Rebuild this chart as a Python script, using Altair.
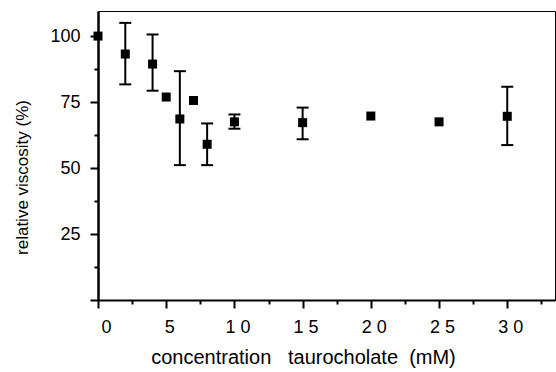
import altair as alt
import pandas as pd

# data
conc = [0, 2, 4, 5, 6, 7, 8, 10, 15, 20, 25, 30]
visc = [100, 93.2, 89.4, 76.9, 68.6, 75.6, 59.0, 67.5, 67.2, 69.7, 67.5, 69.6]

err_conc = [2, 4, 6, 8, 10, 15, 30]
err_lo = [81.7, 79.3, 51.1, 51.1, 64.9, 60.9, 58.7]
err_hi = [105.0, 100.6, 86.7, 66.9, 70.3, 72.9, 80.8]

x_major = [0, 5, 10, 15, 20, 25, 30]
x_minor = [2.5, 7.5, 12.5, 17.5, 22.5, 27.5, 32.5]
y_major = [0, 25, 50, 75, 100]
y_minor = [12.5, 37.5, 62.5, 87.5]

pts = pd.DataFrame({"c": conc, "v": visc})
err = pd.DataFrame({"c": err_conc, "lo": err_lo, "hi": err_hi})

FONT = "Liberation Sans"
NB = "\u00a0"
xscale = alt.Scale(domain=[0, 33.5], nice=False, zero=False)
yscale = alt.Scale(domain=[0, 109.5], nice=False, zero=False)

x_axis = alt.Axis(
    orient="bottom", values=x_major, tickSize=8, tickWidth=2, tickColor="black",
    domainColor="black", domainWidth=2, grid=False,
    labelFont=FONT, labelFontSize=18, labelColor="black", labelPadding=10,
    labelOffset=3, labelExpr="join(split(datum.label, ''), ' ')",
    title=f"concentration{NB}{NB}{NB}taurocholate{NB}{NB}(mM)",
    titleFont=FONT, titleFontSize=20,
    titleFontWeight="normal", titleColor="black",
    titleX=205, titleY=57, titleAnchor="middle", titleAlign="center",
    titleBaseline="middle",
)
y_axis = alt.Axis(
    orient="left", values=y_major, tickSize=8, tickWidth=2, tickColor="black",
    domainColor="black", domainWidth=2.5, grid=False,
    labelFont=FONT, labelFontSize=18, labelColor="black", labelPadding=10,
    labelExpr="datum.value == 0 ? '' : datum.label",
    title="relative viscosity (%)", titleFont=FONT, titleFontSize=17,
    titleFontWeight="normal", titleColor="black",
    titleX=-76, titleY=166, titleAngle=270, titleAlign="center",
    titleBaseline="middle",
)

x_axis_minor = alt.Axis(
    orient="bottom", values=x_minor, tickSize=4, tickWidth=2, tickColor="black",
    domain=False, labels=False, title=None, grid=False,
)
y_axis_minor = alt.Axis(
    orient="left", values=y_minor, tickSize=4, tickWidth=2, tickColor="black",
    domain=False, labels=False, title=None, grid=False,
)

points = alt.Chart(pts).mark_point(
    shape="square", filled=True, color="black", size=81, opacity=1
).encode(
    x=alt.X("c:Q", scale=xscale, axis=x_axis),
    y=alt.Y("v:Q", scale=yscale, axis=y_axis),
)

minor = alt.Chart(pts).mark_point(opacity=0, size=1).encode(
    x=alt.X("c:Q", scale=xscale, axis=x_axis_minor),
    y=alt.Y("v:Q", scale=yscale, axis=y_axis_minor),
)

bars = alt.Chart(err).mark_rule(color="black", strokeWidth=2).encode(
    x=alt.X("c:Q", axis=None),
    y=alt.Y("lo:Q", axis=None),
    y2="hi:Q",
)
cap_lo = alt.Chart(err).mark_tick(
    color="black", orient="horizontal", size=12, thickness=2, opacity=1
).encode(x=alt.X("c:Q", axis=None), y=alt.Y("lo:Q", axis=None))
cap_hi = alt.Chart(err).mark_tick(
    color="black", orient="horizontal", size=12, thickness=2, opacity=1
).encode(x=alt.X("c:Q", axis=None), y=alt.Y("hi:Q", axis=None))

chart = alt.layer(points, bars, cap_lo, cap_hi, minor).resolve_axis(
    x="independent", y="independent"
).properties(
    width=457, height=289,
    autosize=alt.AutoSizeParams(type="none"),
    padding={"left": 98, "top": 11, "right": 1, "bottom": 72},
    background="white",
).configure_view(stroke="black", strokeWidth=1)

chart.save("out.html", embed_options={"renderer": "svg", "actions": False})
